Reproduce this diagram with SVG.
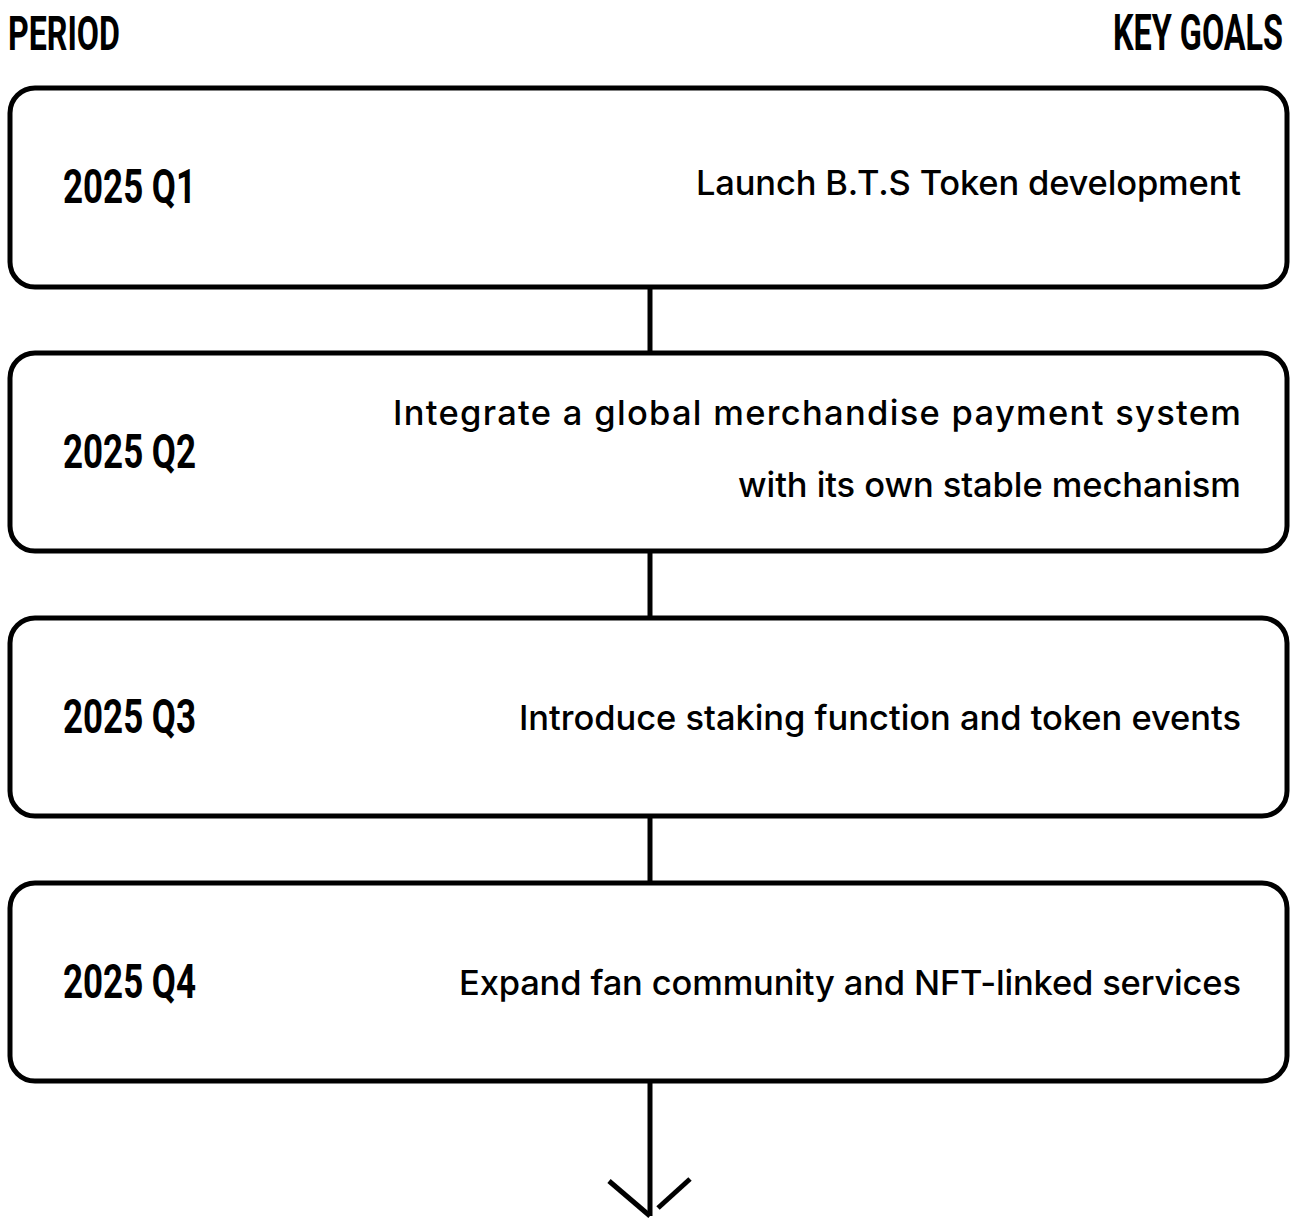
<svg xmlns="http://www.w3.org/2000/svg" width="1298" height="1220" viewBox="0 0 1298 1220">
<style>
.box{fill:#fff;stroke:#000;stroke-width:5}
.hd{font-family:Roboto,"Liberation Sans",sans-serif;font-weight:700;font-size:49px;fill:#000}
.per{font-family:Roboto,"Liberation Sans",sans-serif;font-weight:700;font-size:49px;fill:#000}
.goal{font-family:Inter,"Noto Sans",sans-serif;font-weight:500;font-size:34.5px;fill:#000;text-anchor:end}
.conn{stroke:#000;stroke-width:5;fill:none}
</style>
<rect width="1298" height="1220" fill="#fff"/>
<text class="hd" transform="translate(8,50) scale(0.62,1)" x="0" y="0" textLength="180.6" lengthAdjust="spacingAndGlyphs">PERIOD</text>
<text class="hd" transform="translate(1283,50) scale(0.68,1)" x="0" y="0" text-anchor="end" textLength="250" lengthAdjust="spacingAndGlyphs">KEY GOALS</text>
<g id="connectors">
<line class="conn" x1="650" y1="287" x2="650" y2="353"/>
<line class="conn" x1="650" y1="551" x2="650" y2="618"/>
<line class="conn" x1="650" y1="816" x2="650" y2="883"/>
<line class="conn" x1="650" y1="1081" x2="650" y2="1216"/>
<line class="conn" x1="609" y1="1181" x2="650" y2="1216"/>
<line class="conn" x1="690" y1="1179" x2="658" y2="1208"/>
</g>
<g id="q1">
<rect class="box" x="10" y="88" width="1277" height="199" rx="25"/>
<text class="per" x="63" y="203" textLength="133" lengthAdjust="spacingAndGlyphs">2025 Q1</text>
<text class="goal" x="1241" y="195" textLength="545" lengthAdjust="spacing">Launch B.T.S Token development</text>
</g>
<g id="q2">
<rect class="box" x="10" y="353" width="1277" height="198" rx="25"/>
<text class="per" x="63" y="468" textLength="133" lengthAdjust="spacingAndGlyphs">2025 Q2</text>
<text class="goal" x="1241" y="425" textLength="848" lengthAdjust="spacing">Integrate a global merchandise payment system</text>
<text class="goal" x="1241" y="497" textLength="503" lengthAdjust="spacing">with its own stable mechanism</text>
</g>
<g id="q3">
<rect class="box" x="10" y="618" width="1277" height="198" rx="25"/>
<text class="per" x="63" y="733" textLength="133" lengthAdjust="spacingAndGlyphs">2025 Q3</text>
<text class="goal" x="1241" y="730" textLength="722" lengthAdjust="spacing">Introduce staking function and token events</text>
</g>
<g id="q4">
<rect class="box" x="10" y="883" width="1277" height="198" rx="25"/>
<text class="per" x="63" y="998" textLength="133" lengthAdjust="spacingAndGlyphs">2025 Q4</text>
<text class="goal" x="1241" y="995" textLength="782" lengthAdjust="spacing">Expand fan community and NFT-linked services</text>
</g>
</svg>
